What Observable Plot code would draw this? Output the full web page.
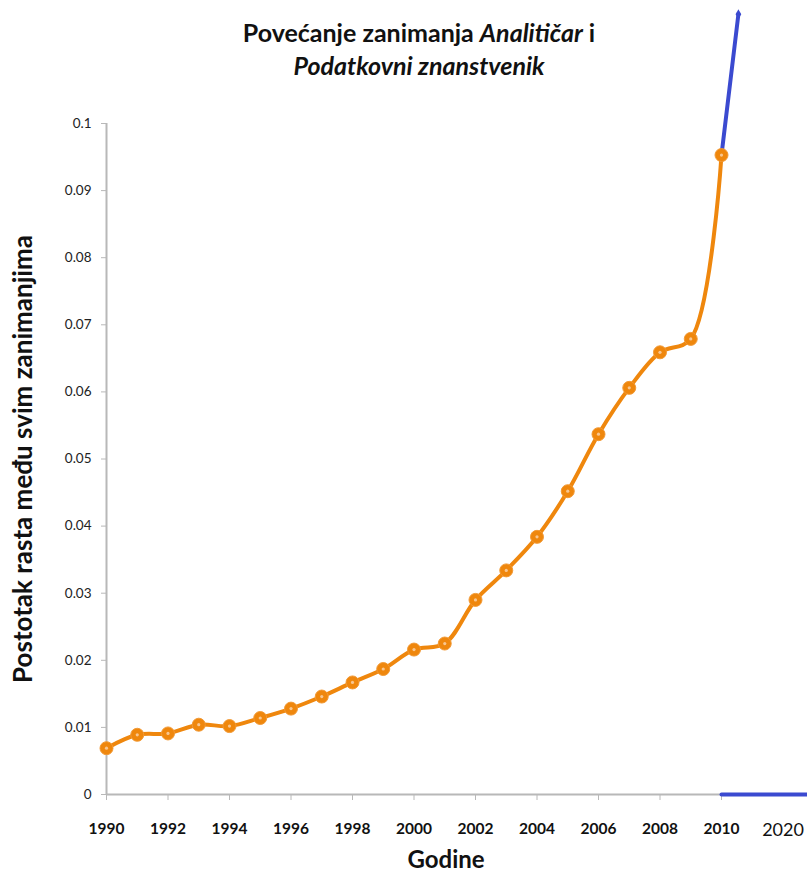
<!DOCTYPE html>
<html>
<head>
<meta charset="utf-8">
<script src="https://cdn.jsdelivr.net/npm/d3@7"></script>
<script src="https://cdn.jsdelivr.net/npm/@observablehq/plot@0.6"></script>
<style>
  html, body { margin: 0; padding: 0; background: #fff; }
  #wrap { position: relative; width: 807px; height: 876px; font-family: Lato, "Open Sans", sans-serif; }
  #title { position: absolute; left: 0; width: 838px; top: 16px; text-align: center;
           font-size: 25px; font-weight: bold; line-height: 33px; color: #111; }
  #chart { position: absolute; left: 0; top: 0; }
</style>
</head>
<body>
<div id="wrap">
  <div id="chart"></div>
  <div id="title">Povećanje zanimanja <i>Analitičar</i> i<br><i>Podatkovni znanstvenik</i></div>
</div>
<script>
const years = [1990,1991,1992,1993,1994,1995,1996,1997,1998,1999,2000,2001,2002,2003,2004,2005,2006,2007,2008,2009,2010];
const shares = [0.0069,0.0089,0.0091,0.0104,0.0102,0.0114,0.0128,0.0146,0.0167,0.0187,0.0216,0.0225,0.0290,0.0334,0.0384,0.0452,0.0537,0.0606,0.0659,0.0679,0.0953];
const trendYears = [2010, 2010.55];
const trendValues = [0.0953, 0.1163];
const baseYears = [2010, 2012.8];
const baseValues = [0, 0];
const xTicks = [1990,1992,1994,1996,1998,2000,2002,2004,2006,2008,2010];
const yTicks = [0,0.01,0.02,0.03,0.04,0.05,0.06,0.07,0.08,0.09,0.1];
const extraLabelYear = [2012];
const extraLabelText = ["2020"];
const yLabel = "Postotak rasta među svim zanimanjima";
const xLabel = "Godine";

const orange = "#ef870d";
const blue = "#3b4ad0";
const grey = "#b8b8b8";

const data = years.map((y, i) => ({year: y, value: shares[i]}));
const trend = trendYears.map((y, i) => ({year: y, value: trendValues[i]}));
const base = baseYears.map((y, i) => ({year: y, value: baseValues[i]}));

const chart = Plot.plot({
  width: 807,
  height: 876,
  marginLeft: 106,
  marginRight: 86,
  marginTop: 123,
  marginBottom: 82,
  style: {fontFamily: "Lato, 'Open Sans', sans-serif", background: "transparent", overflow: "visible"},
  x: {domain: [1990, 2010], axis: null},
  y: {domain: [0, 0.1], axis: null},
  marks: [
    Plot.ruleX([1990], {y1: 0, y2: 0.1, stroke: grey, strokeWidth: 2}),
    Plot.ruleY([0], {x1: 1990, x2: 2010, stroke: grey, strokeWidth: 2}),
    Plot.axisY({ticks: yTicks, tickSize: 5, tickPadding: 10, stroke: grey, fill: "#222", fontSize: 13.5,
                tickFormat: d => String(+d.toFixed(2)), label: null}),
    Plot.axisX({ticks: xTicks, tickSize: 6, tickPadding: 22, stroke: grey, fill: "#111", fontSize: 15.5,
                fontWeight: "bold", tickFormat: d => String(d), label: null}),
    Plot.text(extraLabelText, {x: extraLabelYear, y: [0], dy: 36, fontSize: 18, fill: "#111"}),
    Plot.line(base, {x: "year", y: "value", stroke: blue, strokeWidth: 4}),
    Plot.line(trend, {x: "year", y: "value", stroke: blue, strokeWidth: 4}),
    Plot.dot(trend.slice(1), {x: "year", y: "value", r: 3, fill: blue, symbol: "diamond"}),
    Plot.line(data, {x: "year", y: "value", stroke: orange, strokeWidth: 4, curve: "catmull-rom"}),
    Plot.dot(data, {x: "year", y: "value", r: 6.5, fill: orange, stroke: "#f29a36", strokeWidth: 1}),
    Plot.dot(data, {x: "year", y: "value", r: 1.6, fill: "#f8c690"}),
    Plot.text([yLabel], {frameAnchor: "left", textAnchor: "middle", lineAnchor: "middle", dx: -83, rotate: -90,
                         fontSize: 26, fontWeight: "bold", fill: "#111"}),
    Plot.text([xLabel], {frameAnchor: "bottom", textAnchor: "middle", lineAnchor: "middle", dx: 32, dy: 66,
                         fontSize: 24, fontWeight: "bold", fill: "#111"})
  ]
});
document.getElementById("chart").appendChild(chart);
</script>
</body>
</html>
